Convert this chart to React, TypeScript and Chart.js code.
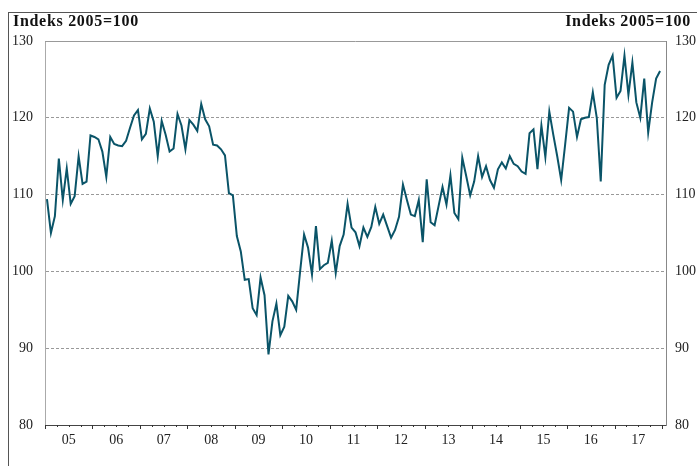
import React, { useEffect, useRef } from "react";
import { Chart, registerables } from "chart.js";

Chart.register(...registerables);

const yearLabels = ["05", "06", "07", "08", "09", "10", "11", "12", "13", "14", "15", "16", "17"];

const v2005 = [109.4, 105.0, 107.2, 114.7, 109.3, 113.4, 108.8, 109.8, 115.0, 111.4, 111.7, 117.7];
const v2006 = [117.5, 117.2, 115.6, 112.3, 117.5, 116.6, 116.4, 116.3, 117.0, 118.7, 120.3, 121.0];
const v2007 = [117.2, 117.9, 121.2, 119.5, 115.0, 119.6, 117.8, 115.6, 116.0, 120.5, 119.0, 115.9];
const v2008 = [119.7, 119.1, 118.3, 121.8, 119.8, 118.9, 116.5, 116.4, 115.9, 115.1, 110.2, 109.9];
const v2009 = [104.6, 102.6, 98.9, 99.0, 95.2, 94.3, 99.2, 96.9, 89.2, 93.5, 95.8, 91.7];
const v2010 = [92.8, 96.8, 96.1, 95.0, 100.0, 104.8, 103.1, 99.6, 105.9, 100.3, 100.8, 101.1];
const v2011 = [104.0, 99.8, 103.3, 104.8, 108.8, 105.7, 105.1, 103.3, 105.7, 104.5, 105.8, 108.4];
const v2012 = [106.2, 107.4, 105.9, 104.4, 105.4, 107.1, 111.3, 109.3, 107.4, 107.2, 109.3, 103.8];
const v2013 = [112.0, 106.4, 106.0, 108.5, 111.0, 108.7, 112.5, 107.6, 106.8, 114.8, 112.4, 109.9];
const v2014 = [111.7, 115.0, 112.3, 113.7, 111.9, 110.9, 113.3, 114.2, 113.4, 115.0, 114.0, 113.7];
const v2015 = [113.0, 112.7, 118.0, 118.5, 113.3, 119.0, 114.9, 120.8, 117.8, 115.0, 111.9, 116.5];
const v2016 = [121.3, 120.8, 117.5, 119.8, 120.0, 120.1, 123.3, 120.0, 111.7, 124.3, 126.9, 128.1];
const v2017 = [122.6, 123.5, 128.1, 123.0, 127.2, 122.0, 120.0, 125.1, 118.1, 122.0, 125.1, 126.1];

const yearValues = [v2005, v2006, v2007, v2008, v2009, v2010, v2011, v2012, v2013, v2014, v2015, v2016, v2017];

const yMin = 80;
const yMax = 130;
const yStep = 10;
const titleText = "Indeks 2005=100";

const FONT = "'Liberation Serif', 'Times New Roman', serif";

export default function App() {
  const ref = useRef<HTMLCanvasElement | null>(null);

  useEffect(() => {
    if (!ref.current) return;
    const points: { x: number; y: number }[] = [];
    yearValues.forEach((arr, yi) => {
      arr.forEach((v, mi) => points.push({ x: yi * 12 + mi + 0.5, y: v }));
    });
    const totalMonths = yearLabels.length * 12;

    const framePlugin = {
      id: "framePlugin",
      afterDraw(chart: any) {
        const { ctx, chartArea: a, scales } = chart;
        const xs = scales.x;
        ctx.save();
        ctx.lineWidth = 1;
        ctx.strokeStyle = "#999";
        ctx.beginPath();
        const ty = Math.round(a.top) + 0.5;
        ctx.moveTo(a.left, ty);
        ctx.lineTo(a.right, ty);
        ctx.stroke();
        ctx.strokeStyle = "#333";
        ctx.beginPath();
        const by = Math.round(a.bottom);
        for (let m = 0; m <= totalMonths; m += 3) {
          const px = Math.round(xs.getPixelForValue(m)) + 0.5;
          const len = m % 12 === 0 ? 4 : 2;
          ctx.moveTo(px, by);
          ctx.lineTo(px, by + len);
        }
        ctx.stroke();
        ctx.restore();
      },
    };

    const tickFont = { family: FONT, size: 14 };

    const chart = new Chart(ref.current, {
      type: "line",
      data: {
        datasets: [
          {
            data: points,
            borderColor: "#0a5468",
            borderWidth: 2,
            pointRadius: 0,
            tension: 0,
            fill: false,
          },
        ],
      },
      options: {
        animation: false,
        responsive: false,
        maintainAspectRatio: false,
        layout: { padding: { top: 41, left: 0, right: 0, bottom: 0 } },
        plugins: { legend: { display: false }, tooltip: { enabled: false }, title: { display: false } },
        scales: {
          x: {
            type: "linear",
            min: 0,
            max: totalMonths + 1,
            grid: { display: false, drawTicks: false },
            border: { display: true, color: "#444", width: 1 },
            afterFit: (s: any) => {
              s.height = 41;
            },
            afterBuildTicks: (s: any) => {
              s.ticks = yearLabels.map((_, i) => ({ value: i * 12 + 6 }));
            },
            ticks: {
              autoSkip: false,
              maxRotation: 0,
              padding: 7,
              color: "#222",
              font: tickFont,
              callback: (v: any) => yearLabels[Math.round((Number(v) - 6) / 12)] ?? "",
            },
          },
          y: {
            position: "left",
            min: yMin,
            max: yMax,
            afterFit: (s: any) => {
              s.width = 45;
            },
            ticks: { stepSize: yStep, padding: 12, color: "#222", font: tickFont },
            grid: {
              drawTicks: false,
              color: (c: any) =>
                c.tick && (c.tick.value === yMin || c.tick.value === yMax) ? "rgba(0,0,0,0)" : "#999",
              lineWidth: 1,
            },
            border: { display: true, color: "#aaa", dash: [3, 2] },
          },
          y2: {
            position: "right",
            min: yMin,
            max: yMax,
            afterFit: (s: any) => {
              s.width = 31;
            },
            ticks: { stepSize: yStep, padding: 9, color: "#222", font: tickFont },
            grid: { display: false, drawTicks: false },
            border: { display: true, color: "#888" },
          },
        },
      },
      plugins: [framePlugin],
    } as any);
    return () => chart.destroy();
  }, []);

  const titleStyle: React.CSSProperties = {
    position: "absolute",
    top: 13,
    fontFamily: FONT,
    fontWeight: "bold",
    fontSize: 16,
    lineHeight: "16px",
    letterSpacing: "0.7px",
    color: "#111",
    whiteSpace: "nowrap",
  };

  return (
    <div style={{ position: "fixed", left: 0, top: 0, width: 697, height: 466, overflow: "hidden", background: "#fff" }}>
      <div
        style={{
          position: "absolute",
          left: 8,
          top: 12,
          width: 689,
          height: 454,
          boxSizing: "border-box",
          borderTop: "1px solid #555",
          borderLeft: "1px solid #555",
        }}
      />
      <canvas ref={ref} width={697} height={466} style={{ position: "absolute", left: 0, top: 0 }} />
      <div style={{ ...titleStyle, left: 13 }}>{titleText}</div>
      <div style={{ ...titleStyle, right: 6 }}>{titleText}</div>
    </div>
  );
}
